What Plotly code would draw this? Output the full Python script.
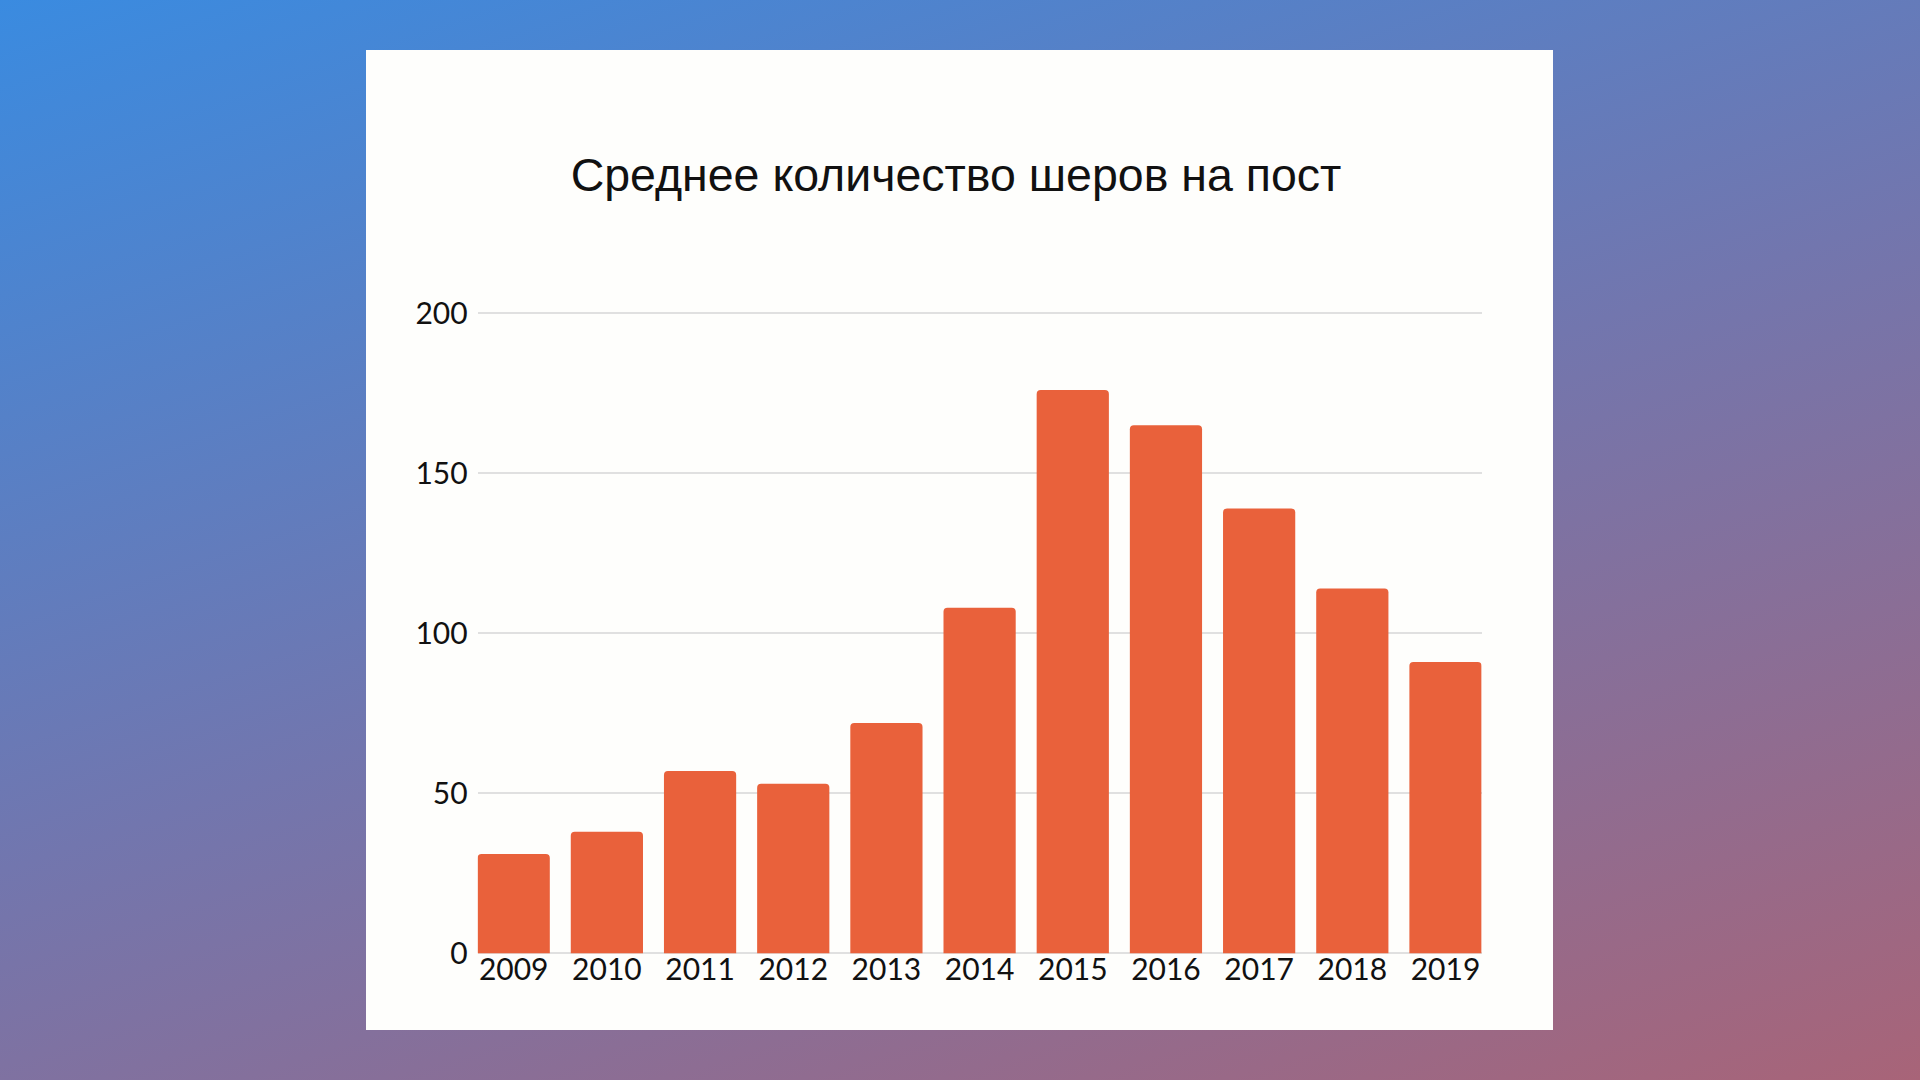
import base64
import plotly.graph_objects as go

years = ["2009", "2010", "2011", "2012", "2013", "2014", "2015", "2016", "2017", "2018", "2019"]
shares = [31, 38, 57, 53, 72, 108, 176, 165, 139, 114, 91]
y_ticks = [0, 50, 100, 150, 200]
title_text = "Среднее количество шеров на пост"

W, H = 1920, 1080

svg = f'''<svg xmlns="http://www.w3.org/2000/svg" width="{W}" height="{H}" viewBox="0 0 {W} {H}" preserveAspectRatio="none">
<defs><linearGradient id="g" gradientUnits="userSpaceOnUse" x1="0" y1="0" x2="537" y2="1557">
<stop offset="0" stop-color="#3A8BE0"/>
<stop offset="0.5" stop-color="#7276AE"/>
<stop offset="1" stop-color="#A86478"/>
</linearGradient></defs>
<rect x="0" y="0" width="{W}" height="{H}" fill="url(#g)"/>
</svg>'''
bg_uri = "data:image/svg+xml;base64," + base64.b64encode(svg.encode()).decode()

def px(x):
    return x / W

def py(y):
    return 1 - y / H

bargap = 0.225
y_pad = 2.0          # data units of slack so the 0 and 200 gridlines are drawn
ppu = (953.3 - 313.3) / 200.0

fig = go.Figure(
    go.Bar(
        x=years,
        y=shares,
        marker=dict(color="#E9613B", line=dict(width=0), cornerradius=4),
        hoverinfo="x+y",
    )
)

fig.update_layout(
    width=W,
    height=H,
    margin=dict(l=0, r=0, t=0, b=0),
    paper_bgcolor="#6a7ab5",
    plot_bgcolor="rgba(0,0,0,0)",
    template="none",
    showlegend=False,
    bargap=bargap,
    title=dict(
        text=title_text,
        x=px(956),
        y=py(175),
        xanchor="center",
        yanchor="middle",
        font=dict(family="Liberation Sans, Arial, sans-serif", size=46.5, color="#111111"),
    ),
    images=[
        dict(
            source=bg_uri,
            xref="paper",
            yref="paper",
            x=0,
            y=1,
            sizex=1,
            sizey=1,
            sizing="stretch",
            xanchor="left",
            yanchor="top",
            layer="below",
        )
    ],
    shapes=[
        dict(
            type="rect",
            xref="paper",
            yref="paper",
            x0=px(366),
            x1=px(1553),
            y0=py(1030),
            y1=py(50),
            fillcolor="#FEFEFC",
            line=dict(width=0),
            layer="below",
        )
    ],
    xaxis=dict(
        type="category",
        domain=[px(477.6), px(1481.6)],
        range=[-0.5 + bargap / 2, len(years) - 0.5 - bargap / 2],
        showgrid=False,
        zeroline=False,
        showline=False,
        ticks="",
        ticklabelstandoff=-11,
        automargin=False,
        tickfont=dict(family="Lato, sans-serif", size=30, color="#111111"),
        anchor="y",
    ),
    yaxis=dict(
        domain=[py(953.3 + y_pad * ppu), py(313.3 - y_pad * ppu)],
        range=[-y_pad, 200 + y_pad],
        tickvals=y_ticks,
        showgrid=True,
        gridcolor="#E0E0E0",
        gridwidth=2,
        zeroline=False,
        showline=False,
        ticks="",
        ticklabelstandoff=9,
        automargin=False,
        tickfont=dict(family="Lato, sans-serif", size=30, color="#111111"),
        anchor="x",
    ),
)

fig.write_html("out.html")
